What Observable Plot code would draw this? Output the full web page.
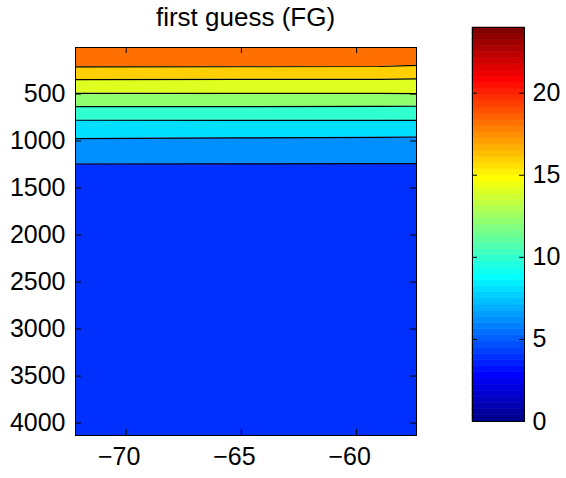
<!DOCTYPE html>
<html><head><meta charset="utf-8">
<script src="https://cdn.jsdelivr.net/npm/d3@7"></script>
<script src="https://cdn.jsdelivr.net/npm/@observablehq/plot@0.6"></script>
<style>
body{margin:0;background:#fff;}
#wrap{position:relative;width:566px;height:478px;font-family:"Liberation Sans",Arial,Helvetica,sans-serif;}
#wrap svg{position:absolute;left:0;top:0;overflow:visible;}
#title{position:absolute;top:5px;left:75px;width:341px;text-align:center;font-size:26px;line-height:24px;color:#000;white-space:nowrap;}
</style></head><body>
<div id="wrap"><div id="title">first guess (FG)</div></div>
<script>
// ---- data ----
const lon = [-72.2, -65, -59, -57.4];
const levels = [18, 16, 14, 12, 10, 8, 6];
const depth18 = [212, 210, 207, 195];
const depth16 = [346, 344, 343, 339];
const depth14 = [492, 493, 494, 496];
const depth12 = [633, 633, 632, 630];
const depth10 = [779, 780, 780, 781];
const depth8  = [974, 966, 960, 957];
const depth6  = [1244, 1242, 1241, 1241];
const bottomValue = 4;
const xTicks = [-70, -65, -60];
const yTicks = [500, 1000, 1500, 2000, 2500, 3000, 3500, 4000];
const cbTicks = [0, 5, 10, 15, 20];
const xDomain = [-72.2, -57.4];
const yDomain = [5, 4132];
const cDomain = [0, 24];
const nColors = 64;

// ---- MATLAB jet(64) colormap ----
function jetMap(m) {
  const n = Math.ceil(m / 4);
  const u = [];
  for (let i = 1; i <= n; i++) u.push(i / n);
  for (let i = 1; i < n; i++) u.push(1);
  for (let i = n; i >= 1; i--) u.push(i / n);
  const off = Math.ceil(n / 2) - (m % 4 === 1 ? 1 : 0);
  const R = new Array(m).fill(0), G = new Array(m).fill(0), B = new Array(m).fill(0);
  u.forEach((v, k) => {
    const g = off + k + 1, r = g + n, b = g - n;
    if (g >= 1 && g <= m) G[g - 1] = v;
    if (r >= 1 && r <= m) R[r - 1] = v;
    if (b >= 1 && b <= m) B[b - 1] = v;
  });
  return R.map((r, i) => d3.rgb(r * 255, G[i] * 255, B[i] * 255).formatHex());
}
const jet = jetMap(nColors);
const jetInterp = (t) => jet[Math.max(0, Math.min(nColors - 1, Math.floor(t * nColors)))];
const colorOpts = {type: "linear", domain: cDomain, interpolate: jetInterp};

// ---- build tables ----
const depthLists = [depth18, depth16, depth14, depth12, depth10, depth8, depth6];
const lineRows = [];
levels.forEach((lv, i) => lon.forEach((x, j) => lineRows.push({level: lv, lon: x, depth: depthLists[i][j]})));
const bandRows = [];
for (let b = 0; b <= levels.length; b++) {
  const value = b < levels.length ? levels[b] : bottomValue;
  lon.forEach((x, j) => bandRows.push({
    value, lon: x,
    top: b === 0 ? yDomain[0] : depthLists[b - 1][j],
    bottom: b === levels.length ? yDomain[1] : depthLists[b][j]
  }));
}
const cells = d3.range(nColors).map(i => {
  const lo = cDomain[0] + i * (cDomain[1] - cDomain[0]) / nColors;
  const hi = cDomain[0] + (i + 1) * (cDomain[1] - cDomain[0]) / nColors;
  return {lo, hi, mid: (lo + hi) / 2};
});

// layout
const W = 566, H = 478;
const M = {left: 75, right: 150, top: 47, bottom: 43};
const CB = {left: 472, right: 42, top: 27, bottom: 57};
const plotW = W - M.left - M.right, plotH = H - M.top - M.bottom;
const cbW = W - CB.left - CB.right;
const TL = 6;

const fontStyle = {fontFamily: "Liberation Sans, Arial, Helvetica, sans-serif", fontSize: "25px", color: "black", background: "transparent"};

const main = Plot.plot({
  width: W, height: H,
  marginLeft: M.left, marginRight: M.right, marginTop: M.top, marginBottom: M.bottom,
  style: fontStyle,
  x: {domain: xDomain, ticks: xTicks, label: null},
  y: {domain: yDomain, reverse: true, ticks: yTicks, label: null},
  color: colorOpts,
  marks: [
    Plot.areaY(bandRows, {x: "lon", y1: "top", y2: "bottom", fill: "value", z: "value"}),
    Plot.line(lineRows, {x: "lon", y: "depth", z: "level", stroke: "black", strokeWidth: 1.2}),
    Plot.frame({stroke: "black", strokeWidth: 1}),
    Plot.tickX(xTicks, {x: d => d, insetTop: plotH - TL, stroke: "black"}),
    Plot.tickX(xTicks, {x: d => d, insetBottom: plotH - TL, stroke: "black"}),
    Plot.tickY(yTicks, {y: d => d, insetRight: plotW - TL, stroke: "black"}),
    Plot.tickY(yTicks, {y: d => d, insetLeft: plotW - TL, stroke: "black"}),
    Plot.axisX({ticks: xTicks, tickSize: 0, tickPadding: 12, dx: -7, label: null, tickFormat: d => "\u2212" + Math.abs(d)}),
    Plot.axisY({ticks: yTicks, tickSize: 0, tickPadding: 10, label: null, tickFormat: d => String(d)})
  ]
});

const cbar = Plot.plot({
  width: W, height: H,
  marginLeft: CB.left, marginRight: CB.right, marginTop: CB.top, marginBottom: CB.bottom,
  style: fontStyle,
  x: {label: null},
  y: {domain: cDomain, ticks: cbTicks, label: null},
  color: colorOpts,
  marks: [
    Plot.barY(cells, {y1: "lo", y2: "hi", fill: "mid", stroke: "mid", strokeWidth: 0.6, inset: 0}),
    Plot.frame({stroke: "black", strokeWidth: 1}),
    Plot.tickY(cbTicks, {y: d => d, insetRight: cbW - 5, stroke: "black"}),
    Plot.tickY(cbTicks, {y: d => d, insetLeft: cbW - 5, stroke: "black"}),
    Plot.axisY({anchor: "right", ticks: cbTicks, tickSize: 0, tickPadding: 8, label: null, tickFormat: d => String(d)})
  ]
});

const wrap = document.getElementById("wrap");
wrap.appendChild(main);
wrap.appendChild(cbar);
</script>
</body></html>
